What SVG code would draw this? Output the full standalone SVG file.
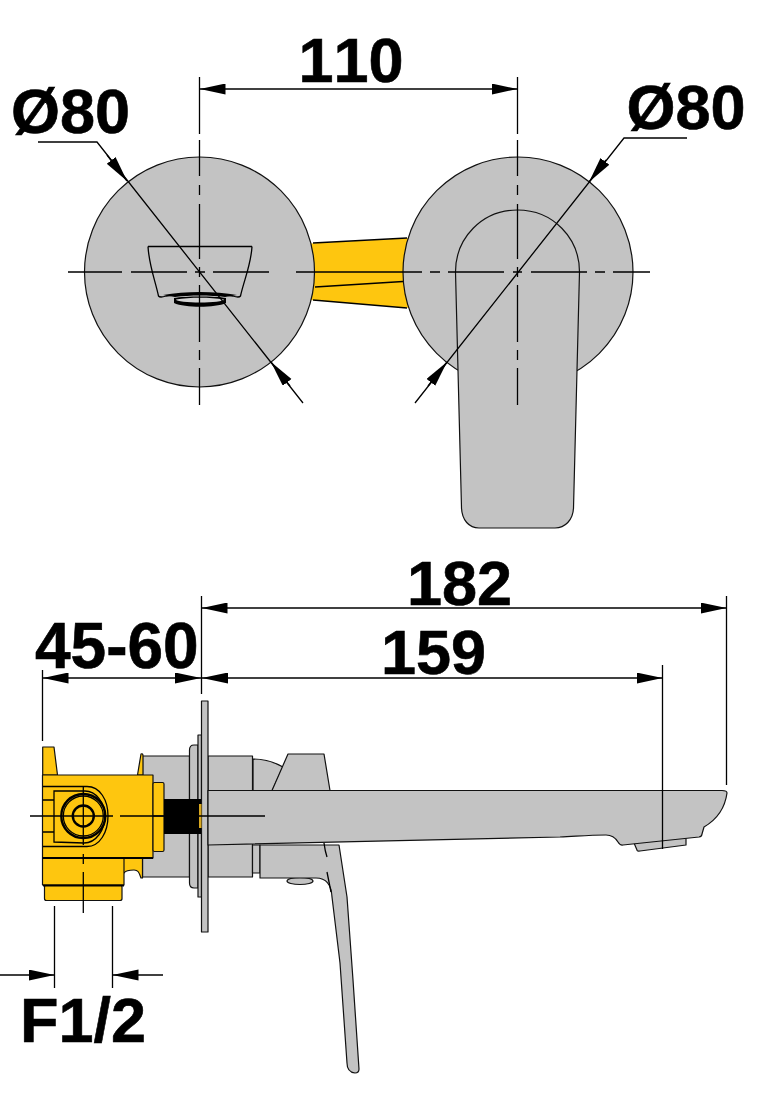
<svg xmlns="http://www.w3.org/2000/svg" width="772" height="1108" viewBox="0 0 772 1108">
<style>
.g{fill:#c3c3c3;stroke:#111;stroke-width:1.2;stroke-linejoin:round}
.y{fill:#fec60f;stroke:#111;stroke-width:1.2;stroke-linejoin:round}
.l{fill:none;stroke:#000;stroke-width:1.3}
.t{fill:none;stroke:#000;stroke-width:2.4}
.d{fill:none;stroke:#000;stroke-width:1.3;marker-start:url(#as);marker-end:url(#ae)}
.e{fill:none;stroke:#000;stroke-width:1.3;marker-end:url(#ae)}
text{font-family:"Liberation Sans",Arial,sans-serif;font-weight:700;font-size:63px;font-kerning:none;fill:#000;stroke:#000;stroke-width:.6}
</style>
<defs>
<marker id="ae" markerUnits="userSpaceOnUse" markerWidth="28" markerHeight="12" refX="26" refY="5.5" orient="auto"><path d="M0 0L26 5.500L0 11Z" fill="#000"/></marker>
<marker id="as" markerUnits="userSpaceOnUse" markerWidth="28" markerHeight="12" refX="0" refY="5.5" orient="auto"><path d="M26 0L0 5.500L26 11Z" fill="#000"/></marker>
</defs>

<g id="top-connector">
<path fill="#fec60f" d="M310 243.500L410 238V308L310 300Z"/>
<path class="l" d="M313 243L407 238M315 287L403 281.500M313 300L407 308"/>
</g>
<g id="top-left-plate"><circle class="g" cx="199.500" cy="272" r="115"/>
<path class="l" d="M148 246.500H252M148 246.500C149 265 155 280 158.500 296C160 298 163 297 166 296C185 293 215 293 233 296C236 297 239 298 240.500 296C244 280 251 265 252 246.500"/>
<path d="M163 295C185 291 215 291 237 295L225 297C210 295 190 295 175 297Z" fill="#000"/>
<path d="M174 298C185 296 215 296 226 298V303C215 308 185 308 174 303Z" fill="#000"/>
<path d="M176 299.500C190 297 210 297 224 299.500C224 303.500 176 303.500 176 299.500Z" fill="#d4d4d4"/>
</g>
<g id="top-right-plate"><circle class="g" cx="518" cy="272" r="115"/></g>
<g id="top-handle"><path class="g" d="M455.500 272C455.500 238 482 210 517.500 210C553 210 579.500 238 579.500 272L573.500 508C573 520 565 528 555 528H479C469 528 462 520 461.500 508Z"/></g>

<g id="side-body">
<path class="g" d="M253 759C265 759 276 763 283 767L272 791H253Z"/>
<rect class="g" x="142.500" y="756" width="47" height="121"/>
<rect class="g" x="208" y="756" width="44.500" height="121"/>
<path class="g" d="M252.500 845H260V873H252.500Z"/>
<path class="g" d="M189.500 750Q189.500 745 194 745H198V888H194Q189.500 888 189.500 883Z"/>
<rect class="g" x="198" y="735" width="3.500" height="162"/>
<rect class="g" x="201.500" y="701" width="6.500" height="231"/>
<path class="g" d="M272 790.500L288 754H324L330 790.500Z"/>
<ellipse class="g" cx="300" cy="881" rx="13" ry="3.500"/>
<path class="g" d="M260 845H339L347 897L353 980L359 1069Q359 1073 355 1073Q347 1072 347 1063L340 963L332 897Q331 878 316 878H260Z"/>
<path class="l" d="M324 843Q325 851 327 857M327 872L331 892"/>
<path class="g" d="M634 843L637 850Q637 851.500 640 851L686 845V837Z"/>
<path class="g" d="M208 790.500H722Q727 790.500 727 793C725 808 716 820 704 827L702 834Q702 836.500 699 837L623 845Q620 845.500 618 842C615 837 612 835 606 835C590 835 580 836 560 837L208 845Z"/>
</g>

<g id="side-valve">
<path class="y" d="M137.500 775L141 754Q143 753 143 756V775Z"/>
<path class="y" d="M120 858H142.500V878H141C139 872 138 870 134 870C130 870 126 870 124 873L120 870Z"/>
<path class="y" d="M42.700 775V747H54L57.500 775Z"/>
<rect class="y" x="44.500" y="885" width="77.500" height="15.500" rx="2"/>
<path class="y" d="M42.500 775H153V858H124V885H42.500Z"/>
<path class="l" d="M42.500 858H153M43 885.500H124" style="stroke-width:1.800"/>
<path class="l" d="M43 786.500H87C100 786.500 108 800 108 816C108 832 100 846.500 87 846.500H43M54 791H85C96 791 105 803 105 816C105 830 96 843 84 843L54 842ZM43 800H54M43 832H54"/>
<rect class="y" x="153" y="782.500" width="11" height="69" rx="1.500"/>
<path class="l" d="M153 816H164"/>
<rect x="164" y="799" width="37" height="35" fill="#000"/>
<rect x="199" y="804" width="2.500" height="24" fill="#d8a820"/>
<circle class="t" cx="83.300" cy="816" r="22"/>
<circle class="l" cx="83.300" cy="816" r="20"/>
<circle class="t" cx="83.300" cy="816" r="10.500"/>
</g>

<g id="connectors">
<path class="l" d="M68 272H122M131 272H187M195 272H205M213 272H269M296 272H422M430 272H440M448 272H504M513 272H522M531 272H587M595 272H605M613 272H650"/>
<path class="l" d="M199.500 77V134M199.500 140V176M199.500 185V195M199.500 204V259M199.500 267V277M199.500 285V342M199.500 350V360M199.500 368V405"/>
<path class="l" d="M517.500 77V134M517.500 140V176M517.500 185V195M517.500 204V259M517.500 267V277M517.500 285V342M517.500 350V360M517.500 368V405"/>
<path class="d" d="M199.500 89H517.500"/>
<path class="l" d="M38 142H97L303 403"/>
<path class="l" d="M687 138H624L415 403"/>
<path class="e" d="M107 155L127 181"/>
<path class="e" d="M290 386L271 362"/>
<path class="e" d="M606 160L589 182"/>
<path class="e" d="M428 386L447 362"/>
<path class="l" d="M201.500 596V694M42.500 670V741M662.500 665V849M726.500 596V785"/>
<path class="d" d="M201.500 608H726.500"/>
<path class="d" d="M42.500 678H201"/>
<path class="d" d="M202 678H662.500"/>
<path class="l" d="M30 816H113M120 816H265M83.300 786V845M83.300 854V864M83.300 872V913M54.500 906V988M112.500 906V988"/>
<path class="e" d="M0 975H54.500"/>
<path class="e" d="M163 975H112.500"/>
</g>

<g id="labels">
<text x="298.500" y="81.500">110</text>
<text x="11" y="133">Ø80</text>
<text x="626.500" y="129">Ø80</text>
<text x="407" y="605">182</text>
<text x="381" y="674">159</text>
<text x="35" y="668" style="font-size:64px">45-60</text>
<text x="20" y="1042">F1/2</text>
</g>
</svg>
